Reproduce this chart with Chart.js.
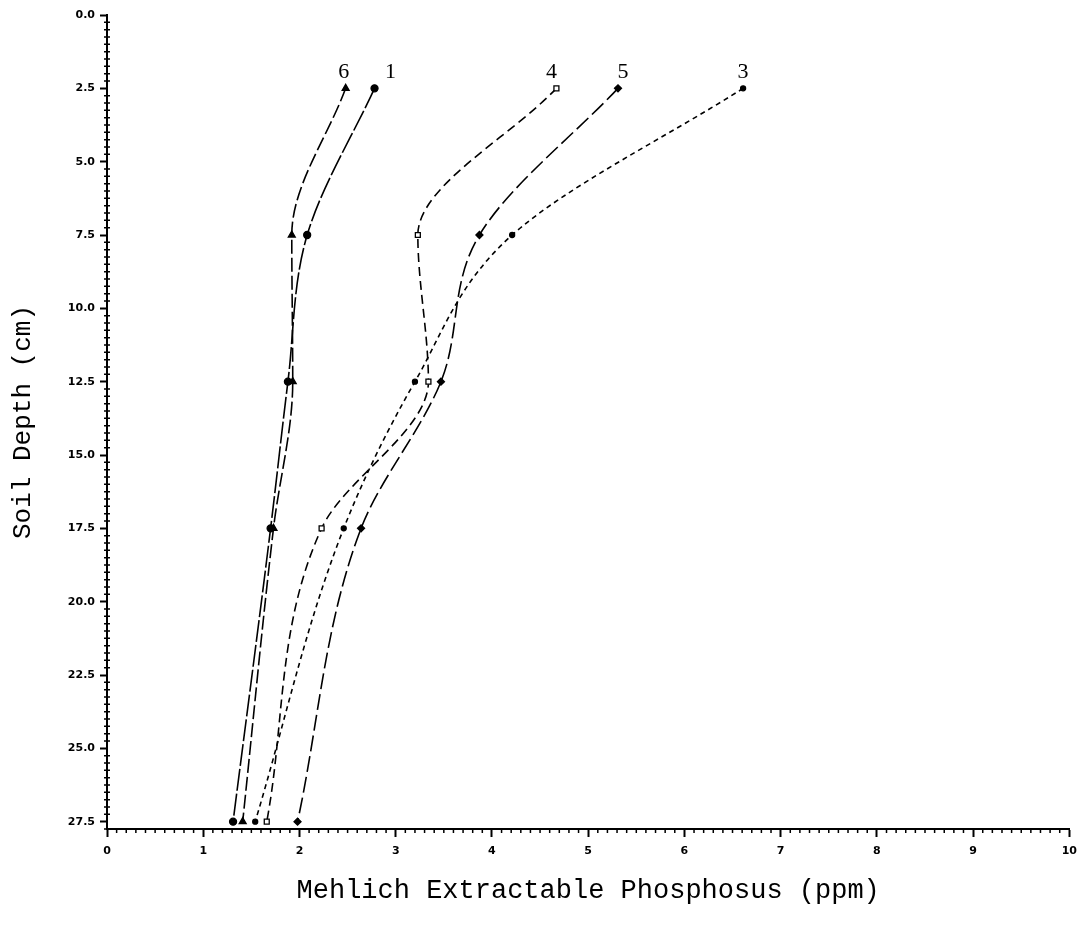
<!DOCTYPE html>
<html>
<head>
<meta charset="utf-8">
<script src="https://cdn.jsdelivr.net/npm/chart.js@4/dist/chart.umd.min.js"></script>
<style>
  body { margin: 0; background: #fff; }
  #wrap { width: 1085px; height: 936px; }
</style>
</head>
<body>
<div id="wrap"><canvas id="myChart" width="1085" height="936"></canvas></div>
<script>
// depths (cm) and P values (ppm)
const depths = [2.5, 7.5, 12.5, 17.5, 27.5];
const site1 = [2.78, 2.08, 1.88, 1.70, 1.31];
const site3 = [6.61, 4.21, 3.20, 2.46, 1.54];
const site4 = [4.67, 3.23, 3.34, 2.23, 1.66];
const site5 = [5.31, 3.87, 3.47, 2.64, 1.98];
const site6 = [2.48, 1.92, 1.93, 1.73, 1.41];

const seriesNames = ["1", "3", "4", "5", "6"];
const xTicks = [0, 1, 2, 3, 4, 5, 6, 7, 8, 9, 10];
const yTicks = [0, 2.5, 5, 7.5, 10, 12.5, 15, 17.5, 20, 22.5, 25, 27.5];

const cxt = document.querySelector("#myChart");

function pts(vals) {
  return vals.map((v, i) => ({ x: v, y: depths[i] }));
}

// per series look: marker, dash, label nudge
const looks = [
  { style: "circle", r: 3.5, fill: "#000", dash: [22, 3], dx: 16 },
  { style: "circle", r: 2.5, fill: "#000", dash: [5, 4], dx: 0 },
  { style: "rect", r: 3.5, fill: "#fff", dash: [9, 5], dx: -5 },
  { style: "rectRot", r: 3.5, fill: "#000", dash: [16, 5], dx: 5 },
  { style: "triangle", r: 4, fill: "#000", dash: [14, 4], dx: -2 },
];

const allData = [site1, site3, site4, site5, site6];

const datasets = allData.map((vals, i) => ({
  label: seriesNames[i],
  data: pts(vals),
  indexAxis: "y",
  showLine: true,
  cubicInterpolationMode: "monotone",
  borderColor: "#000",
  borderWidth: 1.6,
  borderDash: looks[i].dash,
  pointStyle: looks[i].style,
  pointRadius: looks[i].r,
  pointBackgroundColor: looks[i].fill,
  pointBorderColor: "#000",
  pointBorderWidth: 1.3,
}));

// minor ticks on both axes + series numbers above top points
const extras = {
  id: "extras",
  afterDraw(chart) {
    const ctx = chart.ctx;
    const xs = chart.scales.x;
    const ys = chart.scales.y;
    const area = chart.chartArea;
    ctx.save();
    ctx.strokeStyle = "#000";
    ctx.lineWidth = 1.5;
    ctx.beginPath();
    for (let i = 1; i < 100; i++) {
      if (i % 10 === 0) continue;
      const px = xs.getPixelForValue(i / 10);
      ctx.moveTo(px, area.bottom);
      ctx.lineTo(px, area.bottom + 4);
    }
    for (let i = 1; i <= 111; i++) {
      if (i % 10 === 0) continue;
      const py = ys.getPixelForValue(i / 4);
      ctx.moveTo(area.left - 3, py);
      ctx.lineTo(area.left + 3, py);
    }
    ctx.stroke();

    ctx.fillStyle = "#000";
    ctx.font = "22px 'Liberation Serif'";
    ctx.textAlign = "center";
    ctx.textBaseline = "alphabetic";
    chart.data.datasets.forEach((ds, i) => {
      const p = ds.data[0];
      const px = xs.getPixelForValue(p.x) + looks[i].dx;
      const py = ys.getPixelForValue(p.y) - 10;
      ctx.fillText(ds.label, px, py);
    });
    ctx.restore();
  },
};

const config = {
  type: "scatter",
  data: { datasets: datasets },
  options: {
    responsive: false,
    animation: false,
    layout: { padding: { top: 15, right: 12, left: 0, bottom: 0 } },
    plugins: { legend: { display: false }, tooltip: { enabled: false } },
    scales: {
      x: {
        type: "linear",
        min: 0,
        max: 10,
        afterBuildTicks: (s) => { s.ticks = xTicks.map((v) => ({ value: v })); },
        afterFit: (s) => { s.height = 107; },
        grid: { drawOnChartArea: false, tickLength: 8, color: "#000", tickWidth: 2 },
        border: { color: "#000", width: 2 },
        ticks: {
          color: "#000",
          padding: 8,
          font: { family: "DejaVu Sans", size: 11, weight: "bold" },
          callback: (v) => String(v),
        },
        title: {
          display: true,
          text: "Mehlich Extractable Phosphosus (ppm)",
          color: "#000",
          font: { family: "Liberation Mono", size: 27 },
          padding: { top: 0, bottom: 29 },
        },
      },
      y: {
        type: "linear",
        reverse: true,
        min: 0,
        max: 27.75,
        afterBuildTicks: (s) => { s.ticks = yTicks.map((v) => ({ value: v })); },
        afterFit: (s) => { s.width = 107; },
        grid: { drawOnChartArea: false, tickLength: 7, color: "#000", tickWidth: 2 },
        border: { color: "#000", width: 2 },
        ticks: {
          color: "#000",
          padding: 5,
          font: { family: "DejaVu Sans", size: 11, weight: "bold" },
          callback: (v) => v.toFixed(1),
        },
        title: {
          display: true,
          text: "Soil Depth (cm)",
          color: "#000",
          font: { family: "Liberation Mono", size: 26 },
          padding: { top: 8, bottom: 0 },
        },
      },
    },
  },
  plugins: [extras],
};

new Chart(cxt, config);
</script>
</body>
</html>
